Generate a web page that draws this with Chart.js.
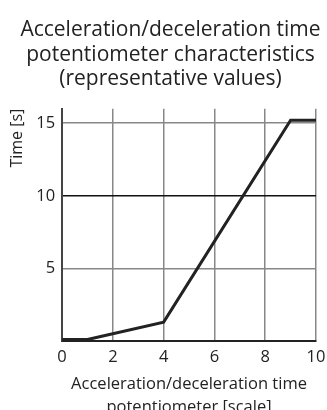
<!DOCTYPE html>
<html>
<head>
<meta charset="utf-8">
<script src="https://cdn.jsdelivr.net/npm/chart.js@4/dist/chart.umd.min.js"></script>
<style>
  html, body { margin: 0; padding: 0; background: #fff; }
  #wrap { width: 327px; height: 410px; }
</style>
</head>
<body>
<div id="wrap"><canvas id="accel"></canvas></div>
<script>
    // potentiometer scale vs. time, representative curve
    var scaleSetting = [0, 1, 4, 9, 10];
    var timeSec = [0.1, 0.1, 1.3, 15.2, 15.2];
    var xTicks = [0, 2, 4, 6, 8, 10];
    var yTicks = [5, 10, 15];

    var points = scaleSetting.map(function (v, i) { return { x: v, y: timeSec[i] }; });
    var font = "'Open Sans', 'Noto Sans', sans-serif";

    // nudge the title block a little to the right
    var titleShift = {
        id: 'titleShift',
        afterLayout: function (chart) {
            if (chart.titleBlock) {
                chart.titleBlock.left += 3;
                chart.titleBlock.right += 3;
            }
        }
    };

    new Chart(document.getElementById("accel"), {
        type: 'line',
        data: {
            datasets: [{
                data: points,
                borderColor: "#222",
                borderWidth: 3,
                pointRadius: 0,
                tension: 0,
                fill: false
            }]
        },
        options: {
            responsive: true,
            maintainAspectRatio: false,
            animation: false,
            layout: { padding: { left: 8, right: 0, top: 7, bottom: -9 } },
            plugins: {
                legend: { display: false },
                tooltip: { enabled: false },
                title: {
                    display: true,
                    text: ['Acceleration/deceleration time', 'potentiometer characteristics', '(representative values)'],
                    color: '#222',
                    font: { family: font, size: 21, weight: 'normal', lineHeight: 1.17 },
                    padding: { top: 11, bottom: 17 }
                }
            },
            scales: {
                x: {
                    type: 'linear',
                    min: 0,
                    max: 10,
                    afterBuildTicks: function (axis) {
                        axis.ticks = xTicks.map(function (v) { return { value: v }; });
                    },
                    afterFit: function (axis) {
                        axis.paddingRight = 11;
                    },
                    ticks: { color: '#222', font: { family: font, size: 16.5 }, padding: 6 },
                    grid: { color: '#888', lineWidth: 1.5, drawTicks: false },
                    border: { color: '#222', width: 2 },
                    title: {
                        display: true,
                        text: ['Acceleration/deceleration time', 'potentiometer [scale]'],
                        color: '#222',
                        font: { family: font, size: 16.5, lineHeight: 1.4 },
                        padding: { top: 0, bottom: 0 }
                    }
                },
                y: {
                    type: 'linear',
                    min: 0,
                    max: 16,
                    afterBuildTicks: function (axis) {
                        axis.ticks = yTicks.map(function (v) { return { value: v }; });
                    },
                    ticks: { color: '#222', font: { family: font, size: 16.5 }, padding: 7 },
                    grid: {
                        color: function (ctx) { return ctx.tick && ctx.tick.value === 10 ? '#111' : '#888'; },
                        lineWidth: 1.5,
                        drawTicks: false
                    },
                    border: { color: '#444', width: 2 },
                    title: {
                        display: true,
                        text: 'Time [s]',
                        align: 'end',
                        color: '#222',
                        font: { family: font, size: 16 },
                        padding: { top: 0, bottom: 2 }
                    }
                }
            }
        },
        plugins: [titleShift]
    });
</script>
</body>
</html>
